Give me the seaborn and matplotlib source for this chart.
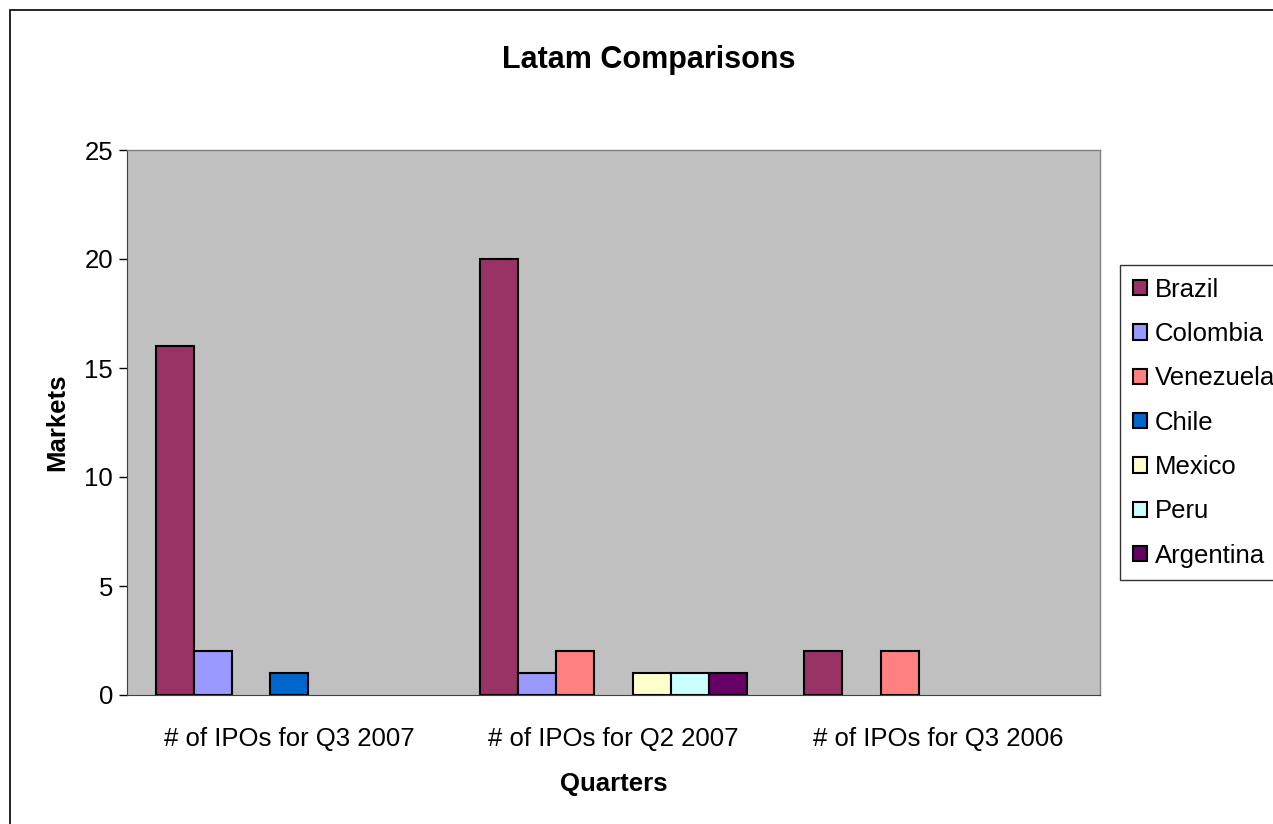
import matplotlib
matplotlib.use("Agg")
import matplotlib.pyplot as plt
import matplotlib.patches as mpatches
import numpy as np
import pandas as pd
import seaborn as sns

# Data
quarters = ["# of IPOs for Q3 2007", "# of IPOs for Q2 2007", "# of IPOs for Q3 2006"]
countries = ["Brazil", "Colombia", "Venezuela", "Chile", "Mexico", "Peru", "Argentina"]
brazil = [16, 20, 2]
colombia = [2, 1, 0]
venezuela = [0, 2, 2]
chile = [1, 0, 0]
mexico = [0, 1, 0]
peru = [0, 1, 0]
argentina = [0, 1, 0]
colors = ["#993366", "#9999FF", "#FF8080", "#0066CC", "#FFFFCC", "#CCFFFF", "#660066"]


def main():
    series = [brazil, colombia, venezuela, chile, mexico, peru, argentina]
    rows = []
    for country, vals in zip(countries, series):
        for q, v in zip(quarters, vals):
            rows.append({"quarter": q, "country": country, "count": v})
    df = pd.DataFrame(rows)

    sns.set_style("white")
    plt.rcParams["font.family"] = ["Liberation Sans", "DejaVu Sans"]
    plt.rcParams["text.color"] = "black"
    plt.rcParams["axes.labelcolor"] = "black"
    plt.rcParams["xtick.color"] = "black"
    plt.rcParams["ytick.color"] = "black"

    fig = plt.figure(figsize=(12.73, 8.24), dpi=100)
    ax = fig.add_axes([127 / 1273, 129 / 824, 973 / 1273, 545 / 824])
    ax.set_facecolor("#C0C0C0")

    sns.barplot(data=df, x="quarter", y="count", hue="country", order=quarters,
                hue_order=countries, palette=colors, saturation=1, edgecolor="black",
                linewidth=1.5, width=7 / 8.5, gap=0, ax=ax, legend=False)

    # Excel does not draw zero-height bars
    for p in ax.patches:
        if p.get_height() == 0:
            p.set_linewidth(0)

    ax.set_xlim(-0.5, 2.5)
    ax.set_ylim(0, 25)
    ax.set_yticks(np.arange(0, 26, 5))
    ax.set_xticks([-0.5, 0.5, 1.5, 2.5], minor=True)
    ax.tick_params(axis="x", which="major", length=0, labelsize=18.5, pad=23)
    ax.tick_params(axis="x", which="minor", length=7, width=1, color="#404040", direction="out")
    ax.tick_params(axis="y", length=6, width=1, color="black", direction="out",
                   labelsize=18.5, pad=4, left=True)

    for side in ["top", "right"]:
        ax.spines[side].set_color("#808080")
        ax.spines[side].set_linewidth(1)
    ax.spines["left"].set_color("#404040")
    ax.spines["bottom"].set_color("#404040")

    ax.set_xlabel("Quarters", fontsize=18.5, fontweight="bold", labelpad=15)
    ax.set_ylabel("Markets", fontsize=18.5, fontweight="bold", labelpad=11)
    fig.text(649 / 1273, 1 - 60 / 824, "Latam Comparisons", fontsize=22,
             fontweight="bold", ha="center", va="center")

    handles = [mpatches.Patch(facecolor=c, edgecolor="black", linewidth=1.5) for c in colors]
    leg = fig.legend(handles, countries, loc="upper left",
                     bbox_to_anchor=(1120 / 1273, 1 - 265 / 824), fontsize=18.5,
                     frameon=True, fancybox=False, edgecolor="black",
                     handlelength=0.55, handleheight=0.55, handletextpad=0.3,
                     labelspacing=0.79, borderpad=0.5, borderaxespad=0)
    leg.get_frame().set_linewidth(1)

    # outer chart border
    fig.patches.append(mpatches.Rectangle((10 / 1273, -0.1), 1.2, 1 - 10 / 824 + 0.1,
                                          transform=fig.transFigure, fill=False,
                                          edgecolor="black", linewidth=1.2))

    fig.savefig("out.png", dpi=100)
    plt.close(fig)


if __name__ == "__main__":
    main()
